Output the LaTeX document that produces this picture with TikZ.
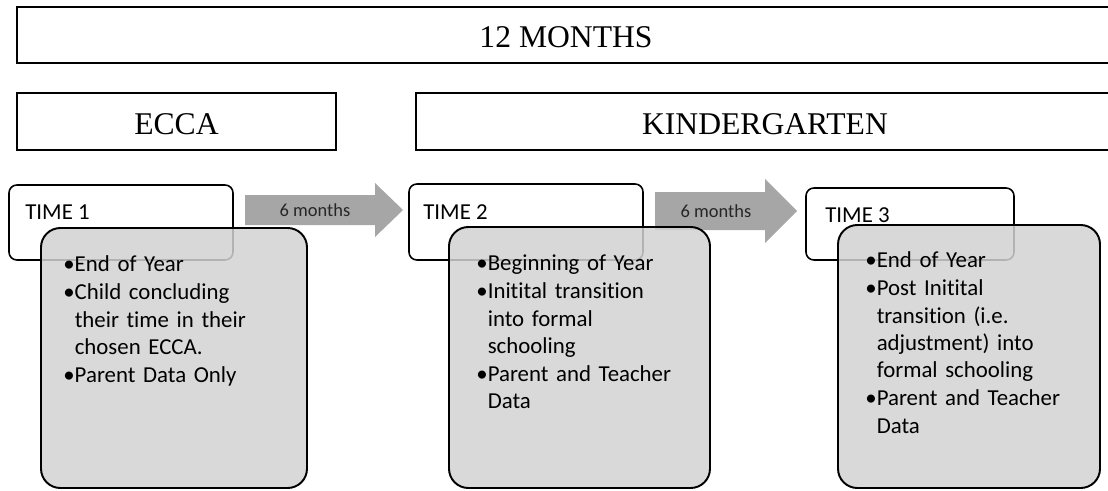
\documentclass[tikz,border=0pt]{standalone}
\usepackage{fontspec}
\setmainfont{Carlito}[Ligatures=NoCommon]
\newfontfamily\headfont{Liberation Serif}
\newlength\bulw
\setlength\bulw{6.5pt}
\newcommand\bpoint[1]{\par\noindent\hangindent=\bulw\hangafter=1\makebox[\bulw][l]{\textbullet}#1}
\tikzset{
  band/.style={draw,line width=1.1pt},
  bandtext/.style={font=\headfont\fontsize{18}{21}\selectfont},
  timebox/.style={draw,line width=0.9pt,rounded corners=4.5pt,fill=white},
  timetext/.style={anchor=west,inner sep=0pt,font=\fontsize{13}{15.4}\selectfont},
  infobox/.style={draw,line width=1.1pt,rounded corners=11pt,fill=gray!35,fill opacity=0.85},
  infotext/.style={anchor=north west,inner sep=0pt,text width=4.6cm,align=left,
    font=\fontsize{13}{15.4}\selectfont\setlength{\parskip}{1pt}},
  gap/.style={fill=gray!70},
  gaptext/.style={font=\fontsize{10.5}{12}\selectfont,text=black!85}
}
\begin{document}
\begin{tikzpicture}[x=0.02cm,y=-0.02cm]
\useasboundingbox (0,0) rectangle (1108,490);
\clip (0,0) rectangle (1108,490);
\draw[band] (17,7) rectangle (1120,63);
\node[bandtext] (months) at (566,37) {12 MONTHS};
\draw[band] (17,93) rectangle (336,150);
\node[bandtext] (ecca) at (176.5,124) {ECCA};
\draw[band] (416,93) rectangle (1120,150);
\node[bandtext] (kinder) at (765,124) {KINDERGARTEN};
\draw[timebox] (9,185) rectangle (233,260);
\node[timetext] (time1) at (25,212) {TIME 1};
\draw[timebox] (409,184) rectangle (643,260);
\node[timetext] (time2) at (423,212) {TIME 2};
\draw[timebox] (806,188) rectangle (1014,260);
\node[timetext] (time3) at (825,215) {TIME 3};
\fill[gap] (245,195) -- (375,195) -- (375,183) -- (403,210) -- (375,237) -- (375,225) -- (245,225) -- cycle;
\node[gaptext] (gap1) at (315,210) {6 months};
\fill[gap] (655,192) -- (765,192) -- (765,179) -- (797,211) -- (765,243) -- (765,230) -- (655,230) -- cycle;
\node[gaptext] (gap2) at (716,211) {6 months};
\draw[infobox] (41,228) rectangle (307,488);
\node[infotext] (info1) at (63,242) {\bpoint{End of Year}\bpoint{Child concluding\newline their time in their\newline chosen ECCA.}\bpoint{Parent Data Only}\par};
\draw[infobox] (449,227) rectangle (710,488);
\node[infotext] (info2) at (476,241) {\bpoint{Beginning of Year}\bpoint{Initital transition\newline into formal\newline schooling}\bpoint{Parent and Teacher\newline Data}\par};
\draw[infobox] (838,225) rectangle (1100,488);
\node[infotext] (info3) at (865,238) {\bpoint{End of Year}\bpoint{Post Initital\newline transition (i.e.\newline adjustment) into\newline formal schooling}\bpoint{Parent and Teacher\newline Data}\par};
\end{tikzpicture}
\end{document}
